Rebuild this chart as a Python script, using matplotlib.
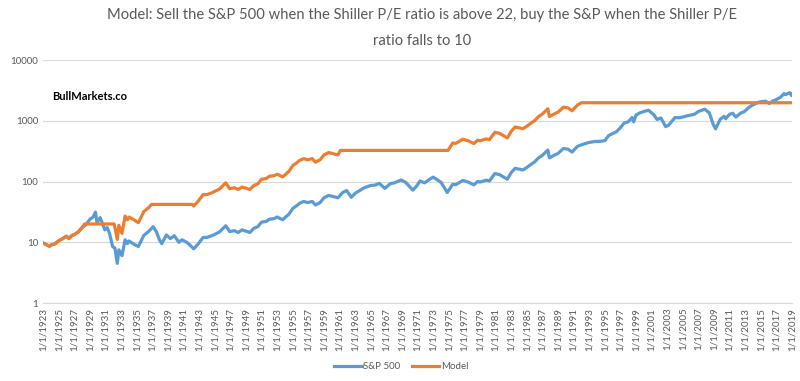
import numpy as np
import matplotlib
matplotlib.use("Agg")
import matplotlib.pyplot as plt

# S&P 500 (decimal year, price)
sp_years = [1923.0, 1923.3, 1923.8, 1924.0, 1924.5, 1925.0, 1925.5, 1926.0, 1926.3, 1926.7,
            1927.0, 1927.5, 1928.0, 1928.5, 1929.0, 1929.4, 1929.7, 1929.9, 1930.3, 1930.5, 1930.9,
            1931.2, 1931.5, 1931.9, 1932.2, 1932.5, 1932.7, 1933.1, 1933.5, 1933.8, 1934.0, 1934.5,
            1935.2, 1935.9, 1936.5, 1937.1, 1937.5, 1937.9, 1938.2, 1938.8, 1939.3, 1939.8, 1940.4,
            1940.8, 1941.5, 1942.3, 1942.9, 1943.5, 1944.0, 1944.6, 1945.0, 1945.6, 1946.4, 1946.9, 1947.5,
            1948.0, 1948.5, 1949.5, 1950.0, 1950.5, 1951.0, 1951.6, 1952.0, 1952.6, 1953.0, 1953.7, 1954.5,
            1955.0, 1955.5, 1955.9, 1956.4, 1956.9, 1957.5, 1957.9, 1958.5, 1959.0, 1959.6, 1960.3, 1960.8,
            1961.4, 1961.9, 1962.5, 1963.0, 1963.5, 1964.0, 1964.5, 1965.0, 1965.5, 1966.1, 1966.8,
            1967.5, 1968.0, 1968.9, 1969.5, 1970.4, 1970.9, 1971.3, 1971.9, 1972.5, 1973.0, 1973.6,
            1974.0, 1974.8, 1975.5, 1975.9, 1976.8, 1977.5, 1978.2, 1978.7, 1979.0, 1979.8, 1980.2,
            1980.9, 1981.5, 1982.5, 1983.0, 1983.5, 1984.5, 1985.0, 1985.5, 1986.0, 1986.5, 1987.0,
            1987.7, 1987.9, 1988.5, 1989.0, 1989.7, 1990.3, 1990.8, 1991.5, 1992.2, 1993.0, 1993.7,
            1994.5, 1995.0, 1995.5, 1996.0, 1996.5, 1997.0, 1997.5, 1998.0, 1998.5, 1998.7, 1999.0,
            1999.5, 2000.0, 2000.6, 2001.3, 2001.7, 2002.2, 2002.8, 2003.2, 2004.0, 2004.6, 2005.5,
            2006.5, 2007.0, 2007.8, 2008.4, 2008.9, 2009.2, 2009.8, 2010.3, 2010.5, 2011.0, 2011.4,
            2011.8, 2012.4, 2012.9, 2013.4, 2013.9, 2014.5, 2014.9, 2015.6, 2016.1, 2016.5,
            2016.9, 2017.5, 2018.0, 2018.2, 2018.7, 2018.95, 2019.0]
sp_values = [9.7, 9.3, 8.6, 9.0, 9.4, 10.6, 11.5, 12.6, 11.5, 13.0,
             13.4, 14.8, 17.5, 19.5, 24, 26, 31.3, 21, 25.5, 22, 16.0,
             17.5, 14, 8.5, 8, 4.5, 7.5, 6, 11, 9.5, 10.5, 9.5,
             8.5, 13, 15, 18, 15, 11, 9.5, 13.2, 11.5, 12.8, 10,
             11, 9.8, 7.8, 9.5, 12, 12, 12.8, 13.5, 14.8, 18.7, 15, 15.5,
             14.5, 16, 14.5, 17, 18, 21.5, 22, 24, 24.5, 26, 23.5, 29,
             36, 40, 44, 47, 45, 47, 41, 45, 54, 59, 56, 54,
             66, 71, 55, 64, 70, 77, 82, 86, 87, 93, 77,
             92, 95, 106, 96, 72, 85, 102, 95, 108, 118, 105,
             97, 66, 90, 89, 104, 98, 88, 100, 98, 105, 102,
             135, 130, 109, 140, 165, 155, 170, 190, 210, 245, 270,
             330, 245, 270, 290, 350, 340, 305, 380, 410, 440, 455,
             460, 470, 570, 615, 660, 770, 920, 960, 1130, 960, 1240,
             1350, 1420, 1490, 1250, 1050, 1110, 800, 850, 1130, 1120, 1200,
             1280, 1420, 1550, 1350, 870, 735, 1060, 1180, 1080, 1280, 1330,
             1150, 1330, 1420, 1630, 1800, 1960, 2050, 2100, 1920, 2100,
             2200, 2430, 2800, 2700, 2900, 2600, 2750]

# Model (decimal year, value)
model_years = [1923.0, 1923.3, 1923.8, 1924.0, 1924.5, 1925.0, 1925.5, 1926.0, 1926.3, 1926.7,
               1927.0, 1927.5, 1928.0, 1928.3, 1932.1, 1932.5, 1932.7, 1933.1, 1933.5, 1933.8, 1934.0,
               1934.5, 1935.2, 1935.9, 1936.5, 1936.9, 1942.1, 1942.3, 1942.9, 1943.5, 1944.0, 1944.6,
               1945.0, 1945.6, 1946.4, 1946.9, 1947.5, 1948.0, 1948.5, 1949.5, 1950.0, 1950.5, 1951.0,
               1951.6, 1952.0, 1952.6, 1953.0, 1953.7, 1954.5, 1955.0, 1955.5, 1955.9, 1956.4, 1956.9,
               1957.5, 1957.9, 1958.5, 1959.0, 1959.6, 1960.3, 1960.8, 1961.1,
               1974.9, 1975.5, 1975.9, 1976.8, 1977.5, 1978.2, 1978.7, 1979.0, 1979.8, 1980.2,
               1980.9, 1981.5, 1982.5, 1983.0, 1983.5, 1984.5, 1985.0, 1985.5, 1986.0, 1986.5, 1987.0,
               1987.7, 1987.9, 1988.5, 1989.0, 1989.7, 1990.3, 1990.8, 1991.5, 1992.0, 2019.0]
model_values = [9.7, 9.3, 8.6, 9.0, 9.4, 10.6, 11.5, 12.6, 11.5, 13.0,
                13.4, 14.8, 17.5, 20, 20, 11.2, 19, 14, 27, 23.5, 26,
                24, 21, 32, 37, 42, 42, 39.5, 48, 61, 61, 65,
                69, 75, 95, 76, 79, 74, 81, 74, 86, 91, 109,
                112, 122, 125, 132, 119, 147, 183, 203, 224, 238, 228,
                238, 208, 228, 274, 300, 284, 274, 325,
                325, 430, 425, 497, 468, 421, 478, 468, 502, 488,
                645, 621, 521, 669, 789, 741, 813, 908, 1004, 1171, 1291,
                1577, 1171, 1291, 1386, 1673, 1625, 1458, 1816, 1980, 1980]

tick_years = list(range(1923, 2020, 2))

plt.rcParams['font.family'] = ['Lato', 'DejaVu Sans']

fig = plt.figure(figsize=(8, 3.81), dpi=100)
ax = fig.add_axes([0.054, 0.2047, 0.936, 0.6378])

ax.plot(sp_years, sp_values, color='#5B9BD5', linewidth=2.3, label='S&P 500', zorder=3)
ax.plot(model_years, model_values, color='#ED7D31', linewidth=2.3, label='Model', zorder=3)

ax.set_yscale('log')
ax.set_ylim(1, 10000)
ax.set_yticks([1, 10, 100, 1000, 10000])
ax.set_yticklabels(['1', '10', '100', '1000', '10000'])
ax.minorticks_off()
ax.set_xlim(1923, 2019)
ax.set_xticks(tick_years)
ax.set_xticklabels([f'1/1/{y}' for y in tick_years], rotation=90)
ax.tick_params(axis='both', length=0, labelsize=7, colors='#595959')
ax.grid(axis='y', color='#D9D9D9', linewidth=0.9)
ax.set_axisbelow(True)
for s in ['top', 'right', 'left']:
    ax.spines[s].set_visible(False)
ax.spines['bottom'].set_color('#D9D9D9')

fig.text(0.528, 0.96, 'Model: Sell the S&P 500 when the Shiller P/E ratio is above 22, buy the S&P when the Shiller P/E',
         ha='center', va='center', fontsize=10.6, color='#595959')
fig.text(0.528, 0.893, 'ratio falls to 10', ha='center', va='center', fontsize=10.6, color='#595959')
ax.text(0.012, 0.85, 'BullMarkets.co', transform=ax.transAxes, fontsize=8, fontweight='bold',
        color='black', va='center')

fig.legend(loc='center', bbox_to_anchor=(0.502, 0.037), ncol=2, frameon=False, fontsize=7,
           handlelength=2.8, columnspacing=1.2, handletextpad=0.2, labelcolor='#595959')

fig.savefig('out.png', dpi=100)
